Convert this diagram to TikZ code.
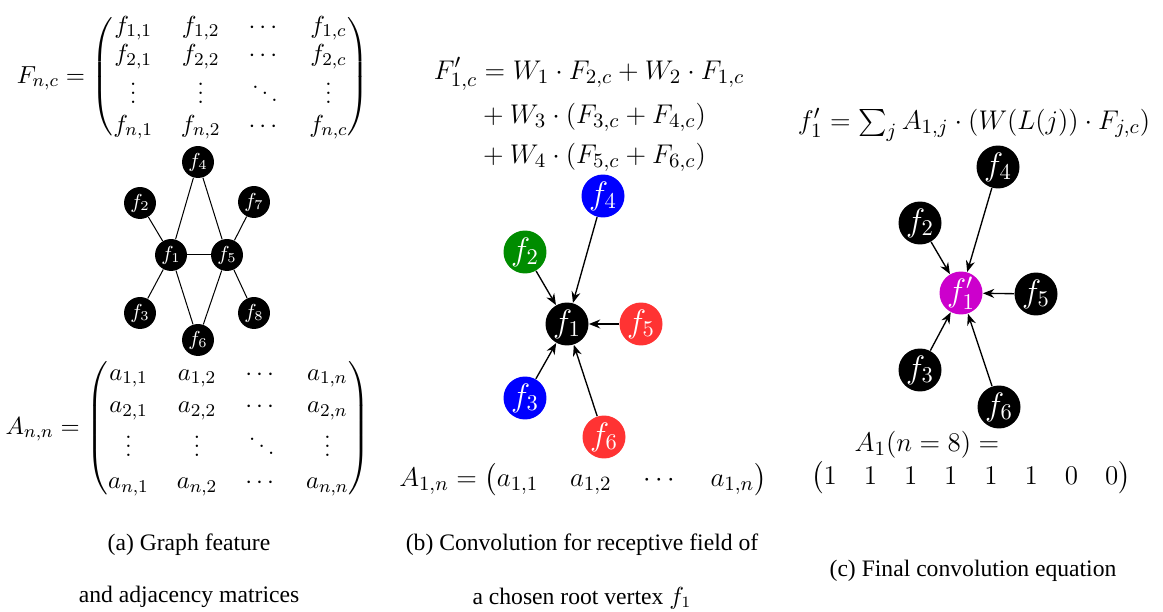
\documentclass[tikz,border=0pt]{standalone}
\usepackage{amsmath}
\usepackage{fontspec}
\newfontfamily\capfont{Liberation Serif}
\usetikzlibrary{arrows.meta}
\definecolor{vred}{RGB}{255,51,51}
\definecolor{vgreen}{RGB}{0,140,0}
\definecolor{vblue}{RGB}{0,0,255}
\definecolor{vmag}{RGB}{204,0,204}
\tikzset{
  va/.style={circle, fill=black, text=white, inner sep=0pt, minimum size=14.2pt, font=\small},
  vb/.style={circle, fill=#1, text=white, inner sep=0pt, minimum size=19.1pt, font=\Large},
  gedge/.style={line width=0.45pt},
  arr/.style={line width=0.6pt, -{Stealth[length=5pt,width=4pt]}},
  captxt/.style={font=\capfont\fontsize{10.5}{12.5}\selectfont, inner sep=0pt},
  eqa/.style={font=\fontsize{11}{12.6}\selectfont, inner sep=0pt},
  eqb/.style={font=\fontsize{12.5}{15}\selectfont, inner sep=0pt}
}
\begin{document}
\begin{tikzpicture}[x=0.4444pt, y=-0.4444pt]
\useasboundingbox (0,0) rectangle (1163,612);
% ---------- panel (a)
\node[eqa] (Fmat) at (193,77) {$F_{n,c}=\setlength{\arraycolsep}{6.2pt}\begin{pmatrix} f_{1,1} & f_{1,2} & \cdots & f_{1,c}\\ f_{2,1} & f_{2,2} & \cdots & f_{2,c}\\ \vdots & \vdots & \ddots & \vdots\\ f_{n,1} & f_{n,2} & \cdots & f_{n,c}\end{pmatrix}$};
\node[va] (a4) at (198,162) {$f_4$};
\node[va] (a2) at (140,203) {$f_2$};
\node[va] (a7) at (254,202) {$f_7$};
\node[va] (a1) at (171,255) {$f_1$};
\node[va] (a5) at (227,255) {$f_5$};
\node[va] (a3) at (140,313) {$f_3$};
\node[va] (a8) at (254,313) {$f_8$};
\node[va] (a6) at (198,340) {$f_6$};
\draw[gedge] (a4) -- (a1);
\draw[gedge] (a4) -- (a5);
\draw[gedge] (a2) -- (a1);
\draw[gedge] (a7) -- (a5);
\draw[gedge] (a1) -- (a5);
\draw[gedge] (a3) -- (a1);
\draw[gedge] (a8) -- (a5);
\draw[gedge] (a6) -- (a1);
\draw[gedge] (a6) -- (a5);
\node[eqa] (Amat) at (188,428) {$A_{n,n}=\setlength{\arraycolsep}{6.2pt}\renewcommand{\arraystretch}{1.15}\begin{pmatrix} a_{1,1} & a_{1,2} & \cdots & a_{1,n}\\ a_{2,1} & a_{2,2} & \cdots & a_{2,n}\\ \vdots & \vdots & \ddots & \vdots\\ a_{n,1} & a_{n,2} & \cdots & a_{n,n}\end{pmatrix}$};
\node[captxt] (capa1) at (189,545) {(a) Graph feature};
\node[captxt] (capa2) at (189,597) {and adjacency matrices};
% ---------- panel (b)
\node[eqb] (Feq) at (589,115) {$\begin{aligned} F'_{1,c} &= W_1\cdot F_{2,c}+W_2\cdot F_{1,c}\\ &+W_3\cdot(F_{3,c}+F_{4,c})\\ &+W_4\cdot(F_{5,c}+F_{6,c})\end{aligned}$};
\node[vb=vblue] (b4) at (603,196) {$f_4$};
\node[vb=vgreen] (b2) at (525,252) {$f_2$};
\node[vb=black] (b1) at (567,324) {$f_1$};
\node[vb=vred] (b5) at (641,324) {$f_5$};
\node[vb=vblue] (b3) at (525,398) {$f_3$};
\node[vb=vred] (b6) at (604,437) {$f_6$};
\draw[arr] (b4) -- (b1);
\draw[arr] (b2) -- (b1);
\draw[arr] (b5) -- (b1);
\draw[arr] (b3) -- (b1);
\draw[arr] (b6) -- (b1);
\node[eqb] (Arow) at (583,480) {$A_{1,n}=\setlength{\arraycolsep}{7pt}\begin{pmatrix} a_{1,1} & a_{1,2} & \cdots & a_{1,n}\end{pmatrix}$};
\node[captxt] (capb1) at (582,545) {(b) Convolution for receptive field of};
\node[captxt] (capb2) at (582,598) {a chosen root vertex $f_1$};
% ---------- panel (c)
\node[eqb] (ceq) at (974,125) {$f'_1=\sum_j A_{1,j}\cdot(W(L(j))\cdot F_{j,c})$};
\node[vb=black] (c4) at (998,167) {$f_4$};
\node[vb=black] (c2) at (920,223) {$f_2$};
\node[vb=vmag] (c1) at (961,293) {$f'_1$};
\node[vb=black] (c5) at (1036,294) {$f_5$};
\node[vb=black] (c3) at (920,370) {$f_3$};
\node[vb=black] (c6) at (999,407) {$f_6$};
\draw[arr] (c4) -- (c1);
\draw[arr] (c2) -- (c1);
\draw[arr] (c5) -- (c1);
\draw[arr] (c3) -- (c1);
\draw[arr] (c6) -- (c1);
\node[eqb] (A1lab) at (927,445) {$A_1(n=8)=$};
\node[eqb] (A1row) at (971,478) {$\setlength{\arraycolsep}{6pt}\begin{pmatrix}1&1&1&1&1&1&0&0\end{pmatrix}$};
\node[captxt] (capc) at (973,571) {(c) Final convolution equation};
\end{tikzpicture}
\end{document}
